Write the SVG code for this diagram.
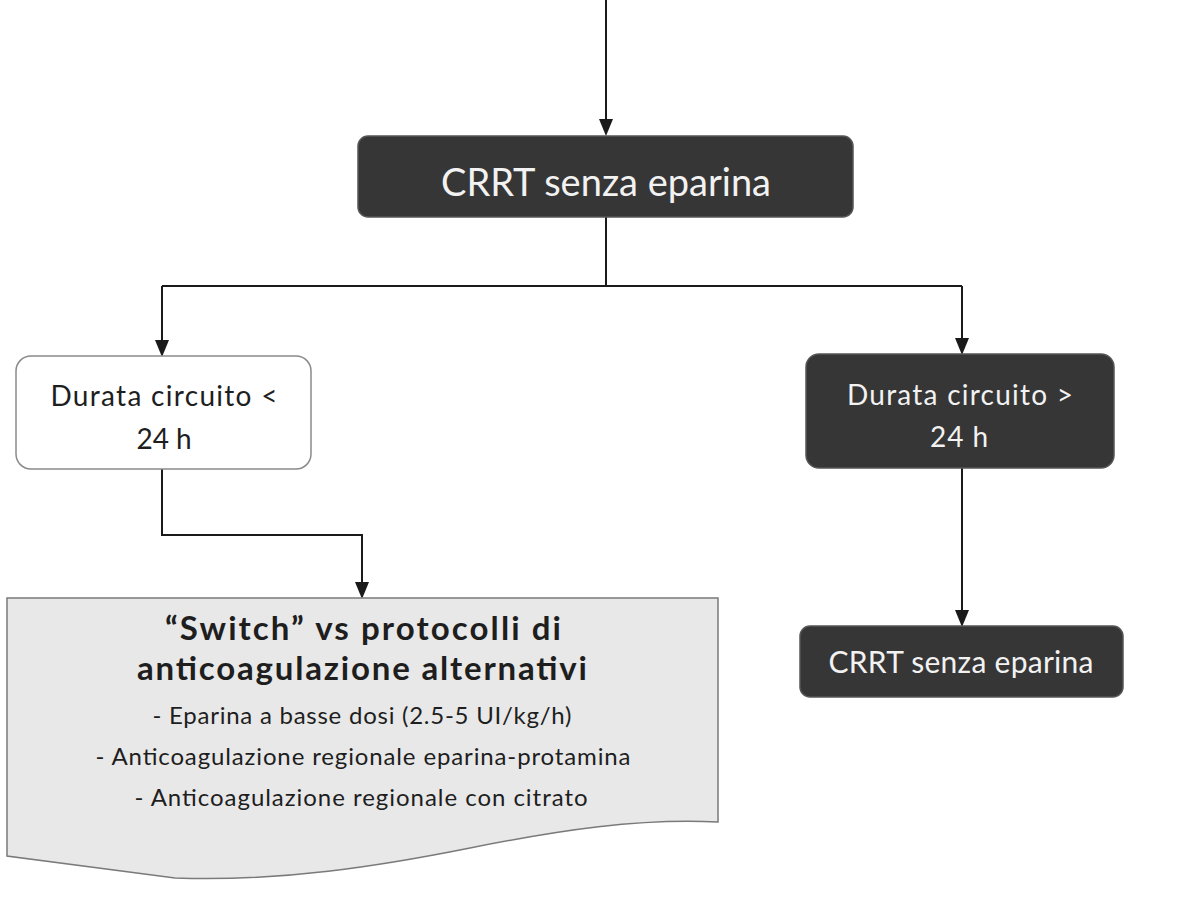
<svg xmlns="http://www.w3.org/2000/svg" width="1201" height="908" viewBox="0 0 1201 908">
<defs>
<style>
.dark{fill:#363636;stroke:#555;stroke-width:1.5}
.light{fill:#fff;stroke:#8a8a8a;stroke-width:1.5}
.doc{fill:#e8e8e8;stroke:#7a7a7a;stroke-width:1.5}
.w{fill:#f2f2f2;font-family:Lato,"Open Sans","Liberation Sans",sans-serif;text-anchor:middle}
.k{fill:#1e1e1e;font-family:Lato,"Open Sans","Liberation Sans",sans-serif;text-anchor:middle}
.c{fill:none;stroke:#1a1a1a;stroke-width:2}
</style>
</defs>
<g id="connectors">
<path class="c" d="M606,0 V122"/>
<path class="c" d="M606,217 V286"/>
<path class="c" d="M162,286 H962"/>
<path class="c" d="M162,286 V342"/>
<path class="c" d="M962,286 V340"/>
<path class="c" d="M162,469 V535 H362 V584"/>
<path class="c" d="M962,468 V612"/>
<g fill="#1a1a1a">
<path d="M599,119 L613,119 L606,136 Z"/>
<path d="M155,340 L169,340 L162,357 Z"/>
<path d="M955,338 L969,338 L962,355 Z"/>
<path d="M355,582 L369,582 L362,599 Z"/>
<path d="M955,610 L969,610 L962,627 Z"/>
</g>
</g>
<g id="n1">
<rect class="dark" x="358" y="136" width="495" height="81" rx="10"/>
<text class="w" x="606" y="196" font-size="38" textLength="330">CRRT senza eparina</text>
</g>
<g id="n2">
<rect class="light" x="16" y="356" width="295" height="113" rx="15"/>
<text class="k" x="164" y="406" font-size="28" textLength="227">Durata circuito &lt;</text>
<text class="k" x="164" y="449" font-size="28" textLength="55">24 h</text>
</g>
<g id="n3">
<rect class="dark" x="806" y="354" width="308" height="114" rx="13"/>
<text class="w" x="960" y="405" font-size="28" textLength="226">Durata circuito &gt;</text>
<text class="w" x="959" y="447" font-size="28" textLength="58">24 h</text>
</g>
<g id="n4">
<rect class="dark" x="800" y="626" width="323" height="71" rx="10"/>
<text class="w" x="961" y="673" font-size="30" textLength="265">CRRT senza eparina</text>
</g>
<g id="n5">
<path class="doc" d="M7,598 H718 V822 C640,818 560,830 470,848 C380,866 280,882 175,878 L7,856 Z"/>
<text class="k" x="363" y="640" font-size="33" font-weight="bold" textLength="396">“Switch” vs protocolli di</text>
<text class="k" x="362" y="680" font-size="33" font-weight="bold" textLength="450">anticoagulazione alternativi</text>
<text class="k" x="362" y="724" font-size="24" textLength="419">- Eparina a basse dosi (2.5-5 UI/kg/h)</text>
<text class="k" x="363" y="765" font-size="24" textLength="535">- Anticoagulazione regionale eparina-protamina</text>
<text class="k" x="361" y="806" font-size="24" textLength="453">- Anticoagulazione regionale con citrato</text>
</g>
</svg>
